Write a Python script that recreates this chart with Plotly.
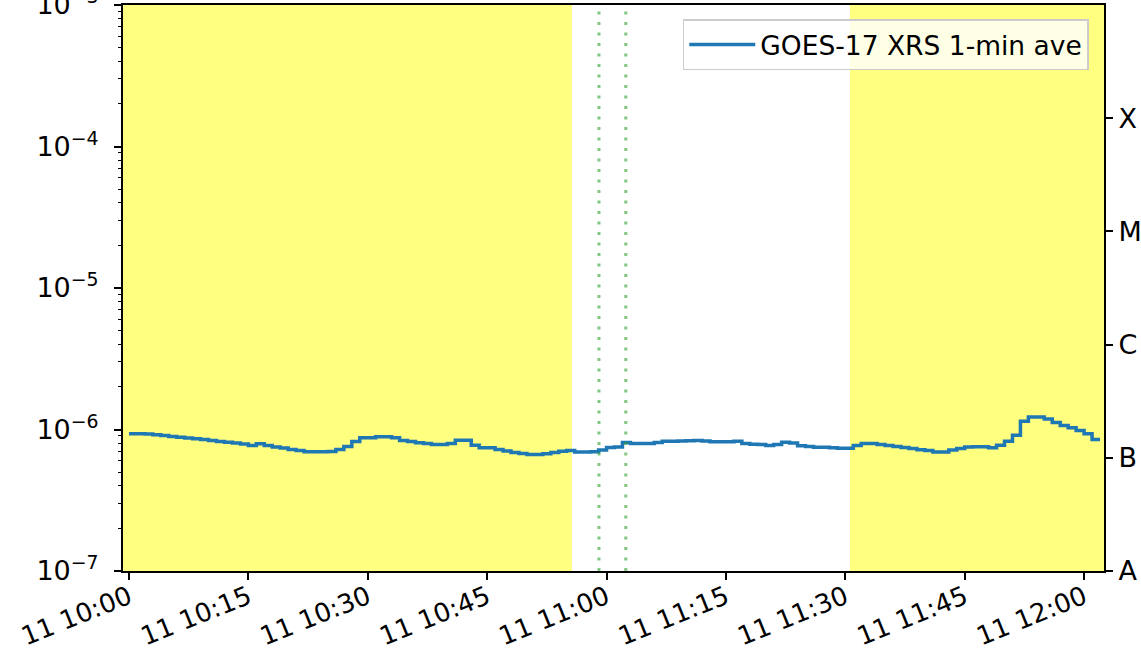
import numpy as np
import pandas as pd
import plotly.graph_objects as go

# ---- data ----
start_time = "2021-01-11 10:00"
flux = [0.932, 0.932, 0.929, 0.917, 0.907, 0.892, 0.882, 0.871, 0.860, 0.850,
        0.836, 0.823, 0.813, 0.803, 0.790, 0.770, 0.792, 0.770, 0.752, 0.740,
        0.722, 0.711, 0.696, 0.696, 0.696, 0.699, 0.722, 0.758, 0.823, 0.874,
        0.874, 0.888, 0.888, 0.874, 0.836, 0.823, 0.805, 0.796, 0.783, 0.783,
        0.796, 0.840, 0.840, 0.774, 0.742, 0.742, 0.722, 0.705, 0.688, 0.677,
        0.666, 0.666, 0.673, 0.688, 0.703, 0.711, 0.692, 0.692, 0.696, 0.716,
        0.746, 0.752, 0.809, 0.796, 0.796, 0.796, 0.809, 0.827, 0.827, 0.829,
        0.832, 0.836, 0.829, 0.819, 0.819, 0.819, 0.827, 0.796, 0.788, 0.783,
        0.770, 0.783, 0.813, 0.803, 0.767, 0.758, 0.750, 0.750, 0.742, 0.738,
        0.738, 0.770, 0.796, 0.796, 0.783, 0.770, 0.758, 0.746, 0.734, 0.719,
        0.711, 0.694, 0.692, 0.716, 0.734, 0.752, 0.755, 0.755, 0.742, 0.774,
        0.827, 0.912, 1.145, 1.226, 1.226, 1.186, 1.121, 1.067, 1.028, 0.984,
        0.932, 0.850, 0.850]
flux = [v * 1e-6 for v in flux]
times = pd.date_range(start_time, periods=len(flux), freq="min")

night_spans = [("2021-01-11 09:59:15", "2021-01-11 10:55:39"),
               ("2021-01-11 11:30:35", "2021-01-11 12:02:30")]
event_lines = ["2021-01-11 10:59:03", "2021-01-11 11:02:25"]

x_ticks = ["2021-01-11 10:00", "2021-01-11 10:15", "2021-01-11 10:30", "2021-01-11 10:45",
           "2021-01-11 11:00", "2021-01-11 11:15", "2021-01-11 11:30", "2021-01-11 11:45",
           "2021-01-11 12:00"]
x_tick_labels = ["11 10:00", "11 10:15", "11 10:30", "11 10:45", "11 11:00",
                 "11 11:15", "11 11:30", "11 11:45", "11 12:00"]
y_ticks = [1e-7, 1e-6, 1e-5, 1e-4, 1e-3]
y_tick_labels = ["10<sup>−7</sup>", "10<sup>−6</sup>", "10<sup>−5</sup>",
                 "10<sup>−4</sup>", "10<sup>−3</sup>"]
class_ticks = [1e-8, 1e-7, 1e-6, 1e-5, 1e-4]
class_labels = ["A", "B", "C", "M", "X"]

minor_vals = [m * 10.0 ** e for e in range(-7, -3) for m in range(2, 10)]

FONT = "DejaVu Sans"
TICKFONT = 27

fig = go.Figure()
fig.add_trace(go.Scatter(x=times, y=flux, mode="lines", line_shape="hv",
                         line=dict(color="#1f77b4", width=3.5),
                         name="GOES-17 XRS 1-min ave"))
fig.add_trace(go.Scatter(x=[times[0]], y=[1e-6], yaxis="y2", mode="markers",
                         marker=dict(opacity=0), showlegend=False, hoverinfo="skip"))
fig.add_trace(go.Scatter(x=[times[0]], y=[1e-6], yaxis="y3", mode="markers",
                         marker=dict(opacity=0), showlegend=False, hoverinfo="skip"))

shapes = []
for a, b in night_spans:
    shapes.append(dict(type="rect", xref="x", yref="paper", x0=a, x1=b, y0=0, y1=1,
                       fillcolor="#ffff80", line=dict(width=0), layer="below"))
for t in event_lines:
    shapes.append(dict(type="line", xref="x", yref="paper", x0=t, x1=t, y0=0, y1=1,
                       line=dict(color="rgba(44,160,44,0.6)", width=3, dash="3px,7.5px")))

fig.update_layout(
    width=1141, height=662,
    margin=dict(l=123, r=37, t=5, b=91),
    paper_bgcolor="white", plot_bgcolor="white",
    font=dict(family=FONT, color="black", size=TICKFONT),
    shapes=shapes,
    showlegend=True,
    legend=dict(x=0.9845, y=0.975, xanchor="right", yanchor="top",
                bgcolor="rgba(255,255,255,0.8)", bordercolor="#cccccc", borderwidth=1.5,
                itemwidth=66,
                font=dict(family=FONT, size=26.5, color="black")),
    xaxis=dict(range=[night_spans[0][0], night_spans[1][1]], tickmode="array",
               tickvals=x_ticks, ticktext=x_tick_labels, tickangle=-22,
               ticks="outside", ticklen=7, tickwidth=1.5, tickcolor="black",
               showline=True, linecolor="black", linewidth=2, mirror=True,
               showgrid=False, zeroline=False, tickfont=dict(size=26),
               ticklabelstandoff=-8, automargin=False),
    yaxis=dict(type="log", range=[-7, -3], tickmode="array", tickvals=y_ticks,
               ticktext=y_tick_labels, ticks="outside", ticklen=7, tickwidth=1.5,
               tickcolor="black", showline=True, linecolor="black", linewidth=2,
               showgrid=False, zeroline=False, tickfont=dict(size=TICKFONT),
               ticklabelstandoff=10, ticklabeloverflow="allow", automargin=False),
    yaxis3=dict(type="log", range=[-7, -3], overlaying="y", side="left",
                tickmode="array", tickvals=minor_vals, showticklabels=False,
                ticks="outside", ticklen=4, tickwidth=1.2, tickcolor="black",
                showline=False, showgrid=False, zeroline=False, automargin=False),
    yaxis2=dict(type="log", range=[-8, -3], overlaying="y", side="right",
                tickmode="array", tickvals=class_ticks, ticktext=class_labels,
                ticks="outside", ticklen=7, tickwidth=1.5, tickcolor="black",
                showline=True, linecolor="black", linewidth=2, showgrid=False,
                zeroline=False, tickfont=dict(size=TICKFONT), automargin=False),
)

fig.write_html("out.html", config={"displayModeBar": False},
               post_script="document.body.style.margin='0px';")
